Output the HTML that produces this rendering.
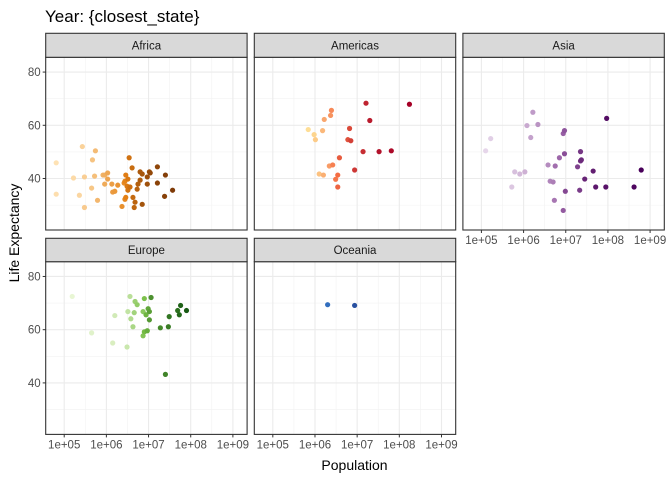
<!DOCTYPE html>
<html><head><meta charset="utf-8"><style>
html,body{margin:0;padding:0;background:#fff;}
svg{display:block;font-family:"Liberation Sans",Arial,sans-serif;}
</style></head><body>
<svg id="chart" width="672" height="480" viewBox="0 0 672 480"></svg>
<script>
const continents = ["Africa","Americas","Asia","Europe","Oceania"];
const africaLogPop = [4.81,4.81,5.43,5.74,5.67,5.22,5.48,5.36,5.48,5.65,5.79,5.72,5.92,5.96,6.03,6.03,5.96,6.13,6.27,6.15,6.20,6.37,6.44,6.46,6.42,6.44,6.46,6.51,6.54,6.61,6.49,6.51,6.56,6.63,6.68,6.66,6.73,6.75,6.80,6.80,6.85,6.85,6.97,6.97,7.02,7.04,7.21,7.21,7.40,7.38,7.57];
const africaLife = [45.9,34.1,52.0,50.4,47.0,40.2,40.6,33.7,29.1,36.4,31.8,40.9,41.3,41.3,42.1,39.8,37.9,37.9,37.5,34.9,35.2,29.5,32.2,32.9,38.3,39.0,41.3,39.8,47.8,44.0,37.1,35.6,36.8,32.9,31.1,29.1,36.0,37.9,39.4,42.5,41.7,30.3,37.9,40.6,42.5,42.1,44.4,38.3,41.3,33.3,35.6];
const americasLogPop = [7.21,8.24,7.30,6.39,6.37,6.22,6.82,5.84,6.18,5.98,6.01,6.78,6.85,7.14,7.52,7.81,6.58,6.42,6.34,6.94,6.10,6.20,6.54,6.49,6.54];
const americasLife = [68.3,67.9,61.8,65.6,63.7,62.2,58.8,58.4,58.0,56.5,54.6,54.6,54.2,50.1,50.1,50.4,47.8,45.1,44.7,43.2,41.7,41.3,41.3,39.7,36.8];
const asiaLogPop = [6.22,6.08,6.34,7.97,5.22,6.17,5.10,6.97,6.94,6.97,6.85,6.58,6.75,7.35,7.37,7.35,7.28,7.65,7.45,5.79,5.91,6.03,5.72,6.63,6.70,6.99,7.33,7.71,7.95,8.62,8.79,6.73,6.94];
const asiaLife = [64.9,59.9,60.3,62.6,55.0,55.4,50.4,58.0,56.9,49.3,47.8,45.1,44.7,50.1,47.0,46.6,44.4,42.8,39.8,42.5,41.7,42.5,36.8,39.0,38.7,35.2,35.6,36.8,36.8,36.8,43.2,31.8,28.0];
const europeLogPop = [5.19,6.56,6.90,7.06,6.68,6.73,7.76,7.90,7.69,7.73,6.87,6.99,7.02,6.94,6.66,6.51,6.20,6.58,7.02,7.49,6.63,7.28,7.47,6.90,6.97,6.87,5.65,6.15,6.49,7.40];
const europeLife = [72.5,72.5,71.7,72.1,70.6,69.4,69.1,67.2,67.2,65.6,66.8,67.9,66.8,65.6,66.4,66.8,65.3,64.1,63.7,64.9,61.1,60.7,61.1,59.2,59.6,57.7,58.8,55.0,53.5,43.2];
const oceaniaLogPop = [6.94,6.30];
const oceaniaLife = [69.12,69.39];
const xTicks = [5,6,7,8,9];
const xTickLabels = ["1e+05","1e+06","1e+07","1e+08","1e+09"];
const yTicks = [40,60,80];

const svg = document.getElementById('chart');
const NS = 'http://www.w3.org/2000/svg';
function mk(tag, attrs, parent){const e=document.createElementNS(NS,tag);for(const k in attrs)e.setAttribute(k,attrs[k]);(parent||svg).appendChild(e);return e;}
const X0=4.561,X1=9.337,Y0=20.65,Y1=85.55,PW=201.4;
const colX=[45.7,254.3,462.9];
const rows=[{st:33.3,pt:57.3,pb:230},{st:238.3,pt:261.7,pb:434.4}];
const series=[
 {name:"Africa",x:africaLogPop,y:africaLife,c0:[254,226,180],c1:[228,128,20],c2:[127,59,8],col:0,row:0},
 {name:"Americas",x:americasLogPop,y:americasLife,c0:[254,222,150],c1:[244,109,67],c2:[165,0,38],col:1,row:0},
 {name:"Asia",x:asiaLogPop,y:asiaLife,c0:[230,214,234],c1:[152,96,165],c2:[73,0,90],col:2,row:0},
 {name:"Europe",x:europeLogPop,y:europeLife,c0:[232,246,212],c1:[120,190,70],c2:[24,90,20],col:0,row:1},
 {name:"Oceania",x:oceaniaLogPop,y:oceaniaLife,c0:[50,110,190],c1:[50,100,180],c2:[40,80,160],col:1,row:1}
];
function lerp(a,b,t){return a.map((v,i)=>Math.round(v+(b[i]-v)*t));}
function colorAt(s,t){const c=t<0.5?lerp(s.c0,s.c1,t*2):lerp(s.c1,s.c2,(t-0.5)*2);return 'rgb('+c.join(',')+')';}

const title=mk('text',{x:45,y:22,'font-size':17,fill:'#000'});
title.textContent='Year: {closest_state}';



series.forEach(s=>{
  const r=rows[s.row],left=colX[s.col];
  const sx=v=>left+(v-X0)/(X1-X0)*PW;
  const sy=v=>r.pb-(v-Y0)/(Y1-Y0)*(r.pb-r.pt);
  const g=mk('g',{});
  
  
  mk('rect',{x:left,y:r.pt,width:PW,height:r.pb-r.pt,fill:'#fff'},g);
  // minor grid
  for(let v=4.5;v<=9.5;v+=1){const x=sx(v);if(x>left&&x<left+PW)mk('line',{x1:x,x2:x,y1:r.pt,y2:r.pb,stroke:'#f2f2f2','stroke-width':0.6},g);}
  [30,50,70].forEach(v=>{const y=sy(v);mk('line',{x1:left,x2:left+PW,y1:y,y2:y,stroke:'#f2f2f2','stroke-width':0.6},g);});
  xTicks.forEach(v=>{const x=sx(v);mk('line',{x1:x,x2:x,y1:r.pt,y2:r.pb,stroke:'#ebebeb','stroke-width':1.1},g);});
  yTicks.forEach(v=>{const y=sy(v);mk('line',{x1:left,x2:left+PW,y1:y,y2:y,stroke:'#ebebeb','stroke-width':1.1},g);});
  // points sorted by population for color
  const idx=s.x.map((v,i)=>i).sort((a,b)=>s.x[a]-s.x[b]);
  idx.forEach((i,rank)=>{
    const t=idx.length>1?rank/(idx.length-1):0.5;
    const p=mk('circle',{cx:sx(s.x[i]),cy:sy(s.y[i]),r:2.6,fill:colorAt(s,t)},g);
    
    
  });
  mk('rect',{x:left,y:r.pt,width:PW,height:r.pb-r.pt,fill:'none',stroke:'#333','stroke-width':1.1},g);
  const strip=mk('rect',{x:left,y:r.st,width:PW,height:r.pt-r.st,fill:'#d9d9d9',stroke:'#333','stroke-width':1.1},g);
  
  
  const st=mk('text',{x:left+PW/2,y:(r.st+r.pt)/2+4,'text-anchor':'middle','font-size':11.5,fill:'#1a1a1a'},g);
  st.textContent=s.name;
  
  
  // y axis on first column
  if(s.col===0){yTicks.forEach(v=>{const y=sy(v);mk('line',{x1:left-3,x2:left,y1:y,y2:y,stroke:'#333'},g);
    const tl=mk('text',{x:left-5,y:y+4,'text-anchor':'end','font-size':11.5,fill:'#4d4d4d'},g);tl.textContent=v;
    
    });}
  // x axis on bottom of each column
  if(s.row===1||s.col===2){xTicks.forEach((v,k)=>{const x=sx(v);mk('line',{x1:x,x2:x,y1:r.pb,y2:r.pb+3,stroke:'#333'},g);
    const tl=mk('text',{x:x,y:r.pb+14,'text-anchor':'middle','font-size':11.5,fill:'#4d4d4d'},g);tl.textContent=xTickLabels[k];
    
    });}
});
const xt=mk('text',{x:354.5,y:470,'text-anchor':'middle','font-size':14,fill:'#000'});
xt.textContent='Population';


const yt=mk('text',{x:0,y:0,'text-anchor':'middle','font-size':14,fill:'#000',transform:'translate(19,233) rotate(-90)'});
yt.textContent='Life Expectancy';


</script>
</body></html>
